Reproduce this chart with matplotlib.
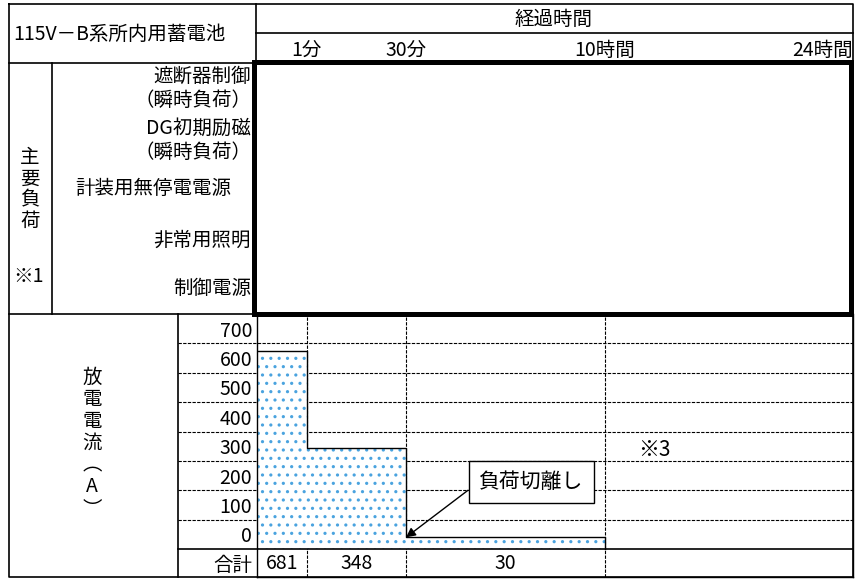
import matplotlib
matplotlib.use('Agg')
import matplotlib.pyplot as plt
import matplotlib.transforms as mtransforms
from matplotlib.patches import Rectangle

plt.rcParams['font.family'] = ['Noto Sans CJK JP', 'DejaVu Sans']
plt.rcParams['font.size'] = 14
plt.rcParams['hatch.linewidth'] = 1.1

# データ
time_edges = [0, 1, 3, 7, 12]            # 区間の境界（時間軸は比例尺ではない）
time_labels = ['1分', '30分', '10時間', '24時間']
current = [590, 300, 35]                 # 放電電流 (A)
totals = ['681', '348', '30']            # 合計
y_labels = ['0', '100', '200', '300', '400', '500', '600', '700']
loads = ['遮断器制御', '（瞬時負荷）', 'DG初期励磁', '（瞬時負荷）',
         '計装用無停電電源', '非常用照明', '制御電源']

W, H = 855, 579
fig = plt.figure(figsize=(W / 100, H / 100), dpi=100)

# グラフ部分（下段）
L, R, T, B = 257, 853, 314, 577
ax = fig.add_axes([L / W, 1 - B / H, (R - L) / W, (B - T) / H])
row = 700 / 8
y_total = -83
ax.set_xlim(time_edges[0], time_edges[-1])
ax.set_ylim(y_total, 700)

dash = (0, (3, 1.2))
ext = -(L - 178) / (R - L)
for k in range(1, 8):
    ax.axhline(row * k, xmin=ext, xmax=1, color='black', lw=0.8, ls=dash,
               clip_on=False, zorder=1)
for e in time_edges[1:4]:
    ax.axvline(e, color='black', lw=0.8, ls=dash, zorder=1)
ax.axhline(0, xmin=ext, xmax=1, color='black', lw=1.2, clip_on=False, zorder=4)

for i, c in enumerate(current):
    ax.bar(time_edges[i], c, width=time_edges[i + 1] - time_edges[i], align='edge',
           color='white', edgecolor='#4aa3df', hatch='..', linewidth=0, zorder=2)
xs = time_edges[:4] + [time_edges[3]]
ys = current + [current[-1], 0]
ax.plot(xs, ys, drawstyle='steps-post', color='black', lw=1.0, zorder=3)

ax.set_xticks([])
ax.set_yticks([row * k + row / 2 for k in range(8)] + [y_total / 2])
ax.set_yticklabels(y_labels + ['合計'])
ax.tick_params(axis='y', length=0, pad=3.5)
ax.spines['top'].set_visible(False)
for s in ['left', 'right', 'bottom']:
    ax.spines[s].set_linewidth(1.0)

for i, t in enumerate(totals):
    ax.text((time_edges[i] + time_edges[i + 1]) / 2, y_total / 2, t,
            ha='center', va='center')

ax.annotate('負荷切離し', xy=(time_edges[2], current[2]), xytext=(5.52, 200),
            ha='center', va='center', fontsize=15, zorder=5,
            bbox=dict(boxstyle='square,pad=0.5', fc='white', ec='black', lw=1.0),
            arrowprops=dict(arrowstyle='-|>', color='black', lw=1.0, relpos=(0, 0.5),
                            shrinkA=0, shrinkB=0, mutation_scale=14))
ax.text(7.67, 295, '※3', ha='left', va='center', fontsize=15)

# 表の枠（ピクセル座標）
fr = fig.add_axes([0, 0, 1, 1])
fr.set_xlim(0, W)
fr.set_ylim(H, 0)
fr.axis('off')

lw = 1.2
fr.plot([9, 853, 853, 9, 9], [4, 4, 577, 577, 4], color='black', lw=lw)
fr.plot([256, 853], [33, 33], color='black', lw=lw)
fr.plot([9, 256], [63, 63], color='black', lw=lw)
fr.plot([256, 256], [4, 63], color='black', lw=lw)
fr.plot([52, 52], [63, 314], color='black', lw=lw)
fr.plot([9, 256], [314, 314], color='black', lw=lw)
fr.plot([178, 178], [314, 577], color='black', lw=lw)
fr.add_patch(Rectangle((253.5, 62), 597.5, 252, fill=False, ec='black', lw=3.6))

fr.text(13, 34, '115V－B系所内用蓄電池', ha='left', va='center')
fr.text(554, 19, '経過時間', ha='center', va='center')

trans = mtransforms.blended_transform_factory(ax.transData, fr.transData)
for e, lab in zip(time_edges[1:], time_labels):
    ha = 'right' if e == time_edges[-1] else 'center'
    fr.text(e, 50, lab, ha=ha, va='center', transform=trans)

load_pos = [(251, 76, 'right'), (251, 100, 'right'), (251, 128, 'right'),
            (251, 152, 'right'), (153, 188, 'center'), (251, 240, 'right'),
            (251, 289, 'right')]
for (x, y, ha), lab in zip(load_pos, loads):
    fr.text(x, y, lab, ha=ha, va='center')

for j, ch in enumerate('主要負荷'):
    fr.text(30, 158 + 21 * j, ch, ha='center', va='center')
fr.text(28, 276, '※1', ha='center', va='center')

for j, ch in enumerate('放電電流︵A︶'):
    fr.text(92, 377 + 22 * j, ch, ha='center', va='center')

fig.savefig('out.png', dpi=100)
